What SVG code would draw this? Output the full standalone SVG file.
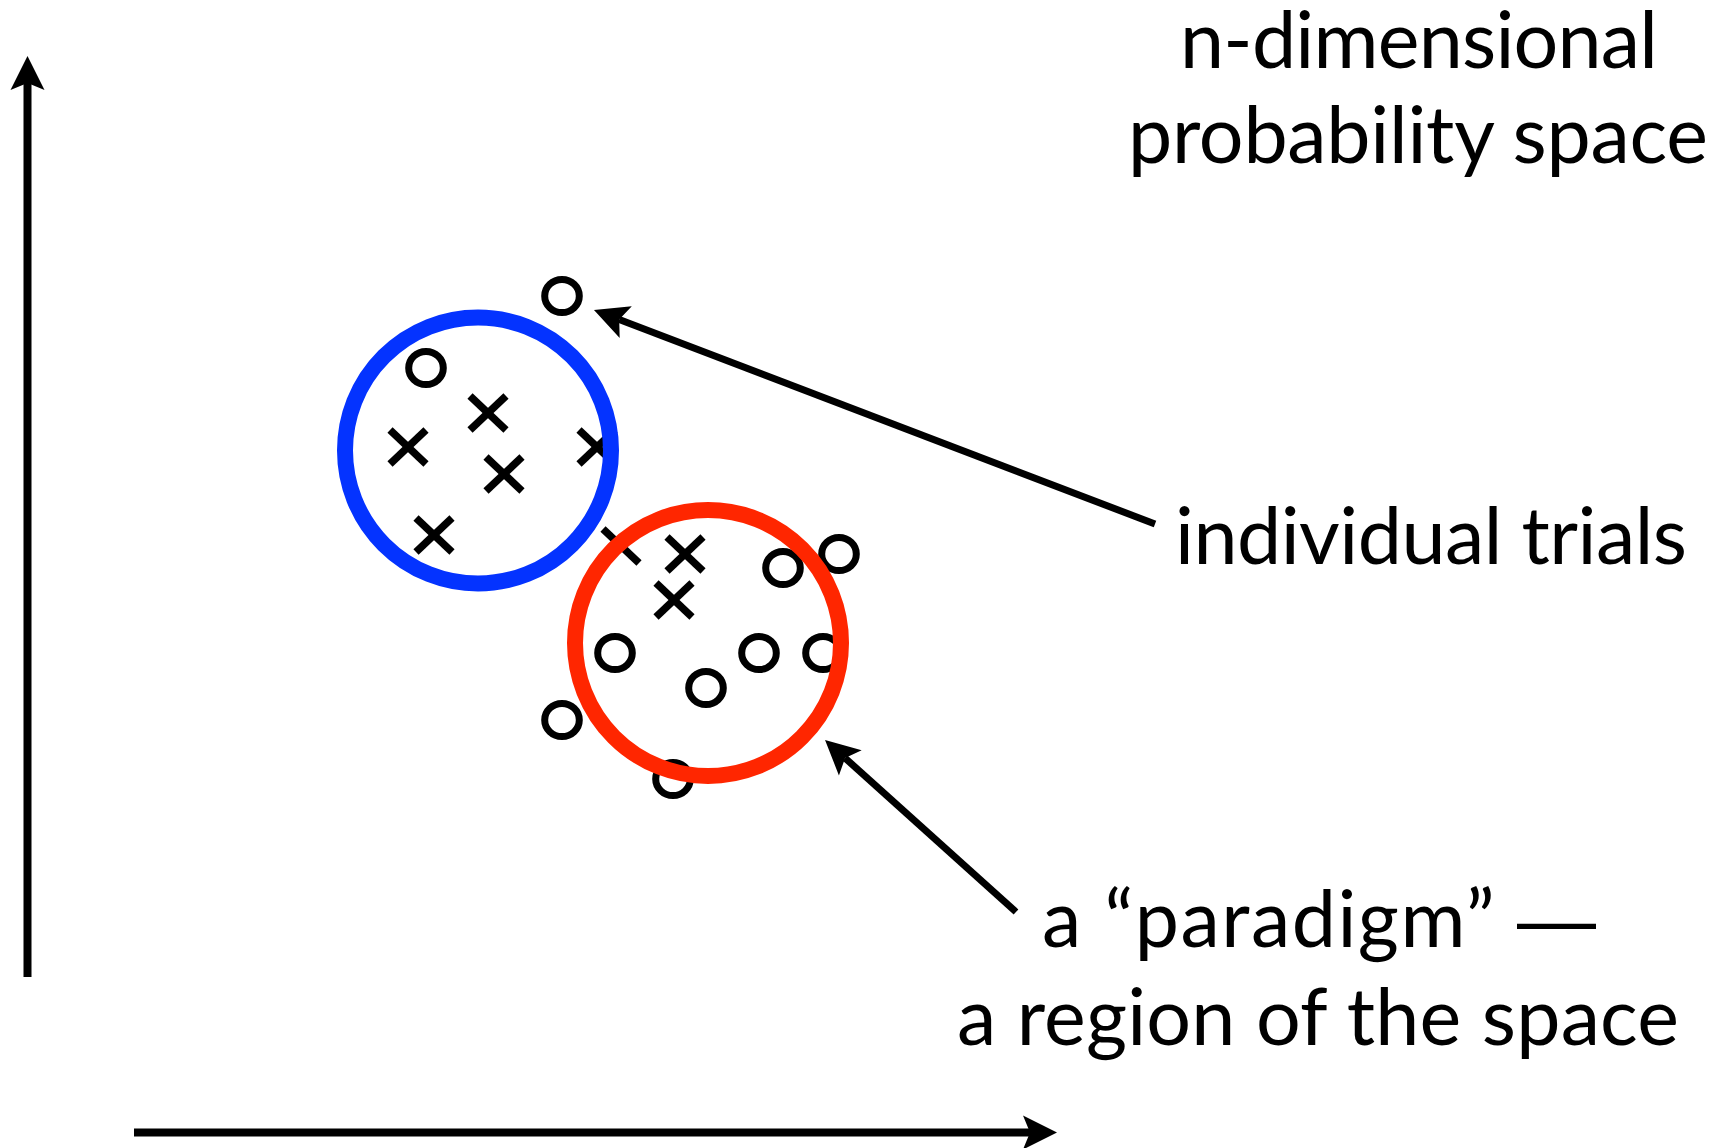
<svg xmlns="http://www.w3.org/2000/svg" width="1726" height="1148" viewBox="0 0 1726 1148">
<style>
.lbl{font-family:Lato,"Open Sans","Liberation Sans",sans-serif;font-size:79px;fill:#000}
.dash{font-family:"Liberation Sans",Arial,sans-serif}
.o{fill:none;stroke:#000;stroke-width:7}
.ax{stroke:#000;stroke-width:8;fill:none}
.ptr{stroke:#000;stroke-width:7;fill:none}
.ring{fill:none;stroke-width:16}
</style>
<defs>
<marker id="ah" markerUnits="userSpaceOnUse" viewBox="-35 -18 36 36" markerWidth="36" markerHeight="36" refX="-27" refY="0" orient="auto">
<path d="M0,0 L-34,-17 L-27,0 L-34,17 Z" fill="#000"/>
</marker>
<g id="xm" stroke="#000" stroke-width="7.5"><line x1="-18" y1="-17" x2="18" y2="17"/><line x1="-18" y1="17" x2="18" y2="-17"/></g>
</defs>
<rect width="1726" height="1148" fill="#fff"/>
<g id="markers">
<g class="o">
<ellipse cx="562" cy="296" rx="17.3" ry="16.5"/>
<ellipse cx="426" cy="368" rx="17.3" ry="16.5"/>
<ellipse cx="783" cy="568" rx="17.3" ry="16.5"/>
<ellipse cx="839" cy="554" rx="17.3" ry="16.5"/>
<ellipse cx="615" cy="653" rx="17.3" ry="16.5"/>
<ellipse cx="759" cy="653" rx="17.3" ry="16.5"/>
<ellipse cx="823" cy="653" rx="17.3" ry="16.5"/>
<ellipse cx="706" cy="688" rx="17.3" ry="16.5"/>
<ellipse cx="562" cy="720" rx="17.3" ry="16.5"/>
<ellipse cx="673" cy="779" rx="17.3" ry="16.5"/>
</g>
<g class="x">
<use href="#xm" x="488" y="413"/>
<use href="#xm" x="408" y="447"/>
<use href="#xm" x="504" y="474"/>
<use href="#xm" x="597" y="447"/>
<use href="#xm" x="434" y="535"/>
<use href="#xm" x="621" y="546"/>
<use href="#xm" x="685" y="554"/>
<use href="#xm" x="674" y="600"/>
</g>
</g>
<g id="blue-region"><circle class="ring" cx="478" cy="450.5" r="133" stroke="#0433FF"/></g>
<g id="red-region"><circle class="ring" cx="708" cy="643" r="133" stroke="#FF2600"/></g>
<g id="connectors">
<line class="ax" x1="27.5" y1="977" x2="27.5" y2="83" marker-end="url(#ah)"/>
<line class="ax" x1="134" y1="1132.5" x2="1030" y2="1132.5" marker-end="url(#ah)"/>
<line class="ptr" x1="1155" y1="524" x2="619.2" y2="319.6" marker-end="url(#ah)"/>
<line class="ptr" x1="1016" y1="912" x2="845.1" y2="758.1" marker-end="url(#ah)"/>
</g>
<g id="title">
<text class="lbl" x="1180" y="68" textLength="478">n-dimensional</text>
<text class="lbl" x="1128" y="163" textLength="580">probability space</text>
</g>
<g id="trials-label"><text class="lbl" x="1175" y="564" textLength="512">individual trials</text></g>
<g id="paradigm-label">
<text class="lbl" x="1042" y="947" textLength="554">a “paradigm” <tspan class="dash">—</tspan></text>
<text class="lbl" x="957" y="1045" textLength="722">a region of the space</text>
</g>
</svg>
